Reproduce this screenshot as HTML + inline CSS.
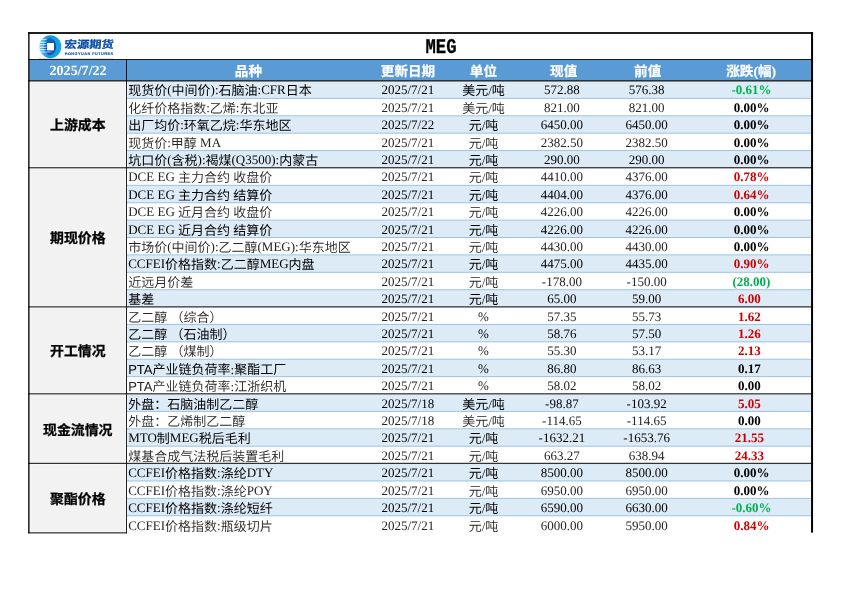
<!DOCTYPE html>
<html lang="zh-CN">
<head>
<meta charset="utf-8">
<title>MEG</title>
<style>
html,body{margin:0;padding:0;background:#fff;}
body{width:842px;height:595px;position:relative;overflow:hidden;font-family:"Liberation Serif","Noto Sans CJK SC",serif;color:#000;text-rendering:geometricPrecision;}
.a{position:absolute;}
.s{font-family:"Liberation Sans","Noto Sans CJK SC",sans-serif;}
.t{position:absolute;white-space:nowrap;font-size:13.00px;line-height:17px;height:17px;}
.c{text-align:center;width:120px;margin-left:-60px;}
.n{left:128.20px;}
.w{font-weight:350;color:#242424;-webkit-text-stroke:0;}
.m{font-size:13.00px;}
.l{position:relative;top:-1px;}
.chg{font-weight:bold;-webkit-text-stroke:0;}
.g{color:#00b050;}
.r{color:#cb0000;}
.p{padding-right:4.4px;box-sizing:border-box;}
.k{color:#000;}
.cat{-webkit-text-stroke:0.25px #000;position:absolute;left:29.10px;width:97.40px;display:flex;align-items:center;justify-content:center;font-weight:bold;font-size:13.90px;font-family:"Liberation Sans","Noto Sans CJK SC",sans-serif;}
.h{-webkit-text-stroke:0.2px #fff;position:absolute;color:#fff;font-weight:bold;font-size:13.60px;line-height:21.20px;height:21.20px;top:60.50px;text-align:center;width:160px;margin-left:-80px;white-space:nowrap;font-family:"Liberation Serif","Noto Sans CJK SC",serif;}
</style>
</head>
<body>

<svg class="a" style="left:0;top:0;" width="842" height="595" viewBox="0 0 842 595">
<rect x="29.10" y="59.50" width="782.95" height="20.80" fill="#5b9bd5"/>
<rect x="30.30" y="81.90" width="95.20" height="84.75" fill="#f2f2f2"/>
<rect x="30.30" y="168.85" width="95.20" height="136.92" fill="#f2f2f2"/>
<rect x="30.30" y="307.97" width="95.20" height="84.75" fill="#f2f2f2"/>
<rect x="30.30" y="394.92" width="95.20" height="67.36" fill="#f2f2f2"/>
<rect x="30.30" y="464.48" width="95.20" height="67.36" fill="#f2f2f2"/>
<rect x="127.40" y="81.30" width="683.65" height="17.19" fill="#ddebf7"/>
<rect x="127.40" y="116.08" width="683.65" height="17.19" fill="#ddebf7"/>
<rect x="127.40" y="150.86" width="683.65" height="17.19" fill="#ddebf7"/>
<rect x="127.40" y="185.64" width="683.65" height="17.19" fill="#ddebf7"/>
<rect x="127.40" y="220.42" width="683.65" height="17.19" fill="#ddebf7"/>
<rect x="127.40" y="255.20" width="683.65" height="17.19" fill="#ddebf7"/>
<rect x="127.40" y="289.98" width="683.65" height="17.19" fill="#ddebf7"/>
<rect x="127.40" y="324.76" width="683.65" height="17.19" fill="#ddebf7"/>
<rect x="127.40" y="359.54" width="683.65" height="17.19" fill="#ddebf7"/>
<rect x="127.40" y="394.32" width="683.65" height="17.19" fill="#ddebf7"/>
<rect x="127.40" y="429.10" width="683.65" height="17.19" fill="#ddebf7"/>
<rect x="127.40" y="463.88" width="683.65" height="17.19" fill="#ddebf7"/>
<rect x="127.40" y="498.66" width="683.65" height="17.19" fill="#ddebf7"/>
<rect x="127.00" y="97.89" width="684.55" height="1" fill="#9bc2e6"/>
<rect x="127.00" y="115.28" width="684.55" height="1" fill="#9bc2e6"/>
<rect x="127.00" y="132.67" width="684.55" height="1" fill="#9bc2e6"/>
<rect x="127.00" y="150.06" width="684.55" height="1" fill="#9bc2e6"/>
<rect x="127.00" y="184.84" width="684.55" height="1" fill="#9bc2e6"/>
<rect x="127.00" y="202.23" width="684.55" height="1" fill="#9bc2e6"/>
<rect x="127.00" y="219.62" width="684.55" height="1" fill="#9bc2e6"/>
<rect x="127.00" y="237.01" width="684.55" height="1" fill="#9bc2e6"/>
<rect x="127.00" y="254.40" width="684.55" height="1" fill="#9bc2e6"/>
<rect x="127.00" y="271.79" width="684.55" height="1" fill="#9bc2e6"/>
<rect x="127.00" y="289.18" width="684.55" height="1" fill="#9bc2e6"/>
<rect x="127.00" y="323.96" width="684.55" height="1" fill="#9bc2e6"/>
<rect x="127.00" y="341.35" width="684.55" height="1" fill="#9bc2e6"/>
<rect x="127.00" y="358.74" width="684.55" height="1" fill="#9bc2e6"/>
<rect x="127.00" y="376.13" width="684.55" height="1" fill="#9bc2e6"/>
<rect x="127.00" y="410.91" width="684.55" height="1" fill="#9bc2e6"/>
<rect x="127.00" y="428.30" width="684.55" height="1" fill="#9bc2e6"/>
<rect x="127.00" y="445.69" width="684.55" height="1" fill="#9bc2e6"/>
<rect x="127.00" y="480.47" width="684.55" height="1" fill="#9bc2e6"/>
<rect x="127.00" y="497.86" width="684.55" height="1" fill="#9bc2e6"/>
<rect x="127.00" y="515.25" width="684.55" height="1" fill="#9bc2e6"/>
<rect x="28.10" y="59.00" width="784.95" height="1" fill="#000" fill-opacity="0.87"/>
<rect x="28.10" y="80.05" width="784.95" height="1.5" fill="#000" fill-opacity="0.82"/>
<rect x="38.5" y="58" width="75.3" height="1" fill="#000" fill-opacity="0.12"/>
<rect x="28.10" y="167.12" width="784.95" height="1.25" fill="#000" fill-opacity="0.8"/>
<rect x="28.10" y="306.25" width="784.95" height="1.25" fill="#000" fill-opacity="0.8"/>
<rect x="28.10" y="393.19" width="784.95" height="1.25" fill="#000" fill-opacity="0.8"/>
<rect x="28.10" y="462.76" width="784.95" height="1.25" fill="#000" fill-opacity="0.8"/>
<rect x="28.10" y="532.22" width="98.90" height="1.25" fill="#000" fill-opacity="0.8"/>
<rect x="126.00" y="59.50" width="1" height="473.74" fill="#000" fill-opacity="0.88"/>
<rect x="28.10" y="32.00" width="784.95" height="2.0" fill="#000" fill-opacity="0.87"/>
<rect x="28.10" y="32.00" width="1.5" height="501.24" fill="#000" fill-opacity="0.9"/>
<rect x="811.05" y="32.00" width="2.0" height="500.64" fill="#000"/>
</svg>
<svg class="a" style="left:34px;top:33px;" width="86" height="27" viewBox="34 33 86 27">
<defs>
<linearGradient id="lg1" x1="0" y1="0" x2="1" y2="0"><stop offset="0" stop-color="#5bbdf0"/><stop offset="0.4" stop-color="#1496e0"/><stop offset="1" stop-color="#16a4e8"/></linearGradient>
<linearGradient id="lg2" x1="0.2" y1="0" x2="0.8" y2="1"><stop offset="0" stop-color="#0a74ca"/><stop offset="0.5" stop-color="#0558b2"/><stop offset="1" stop-color="#0a4aa8"/></linearGradient>
<linearGradient id="lg3" x1="0" y1="0" x2="1" y2="0"><stop offset="0" stop-color="#fff" stop-opacity="1"/><stop offset="0.75" stop-color="#fff" stop-opacity="0.85"/><stop offset="1" stop-color="#fff" stop-opacity="0.1"/></linearGradient>
<clipPath id="cp1"><ellipse cx="50.4" cy="46.65" rx="10.9" ry="11.5"/></clipPath>
</defs>
<ellipse cx="50.4" cy="46.65" rx="10.9" ry="11.5" fill="url(#lg1)"/>
<g clip-path="url(#cp1)">
<ellipse cx="50" cy="46.4" rx="6.1" ry="8.5" fill="url(#lg2)"/>
<rect x="38" y="39.2" width="9.6" height="0.9" fill="url(#lg3)"/>
<rect x="38" y="41.75" width="9.4" height="1" fill="url(#lg3)"/>
<rect x="38" y="44.2" width="9.4" height="1" fill="url(#lg3)"/>
<rect x="38" y="46.75" width="9.4" height="1" fill="url(#lg3)"/>
<rect x="38" y="49.2" width="9.4" height="1" fill="url(#lg3)"/>
<rect x="38" y="51.6" width="15" height="0.8" fill="url(#lg3)"/>
</g>
<rect x="47.1" y="43" width="6.9" height="7.4" fill="#fff"/>
<g fill="#0a4da6" font-family="'Liberation Sans','Noto Sans CJK SC',sans-serif" font-weight="bold">
<text transform="translate(64.3 47.6) scale(1.065 0.89) skewX(-3)" font-size="11.6" stroke="#0a4da6" stroke-width="0.3">宏源期货</text>
<text transform="translate(64.7 54.5) scale(0.4)" font-size="9.5" font-weight="bold" textLength="121" lengthAdjust="spacing" stroke="#0a4da6" stroke-width="0.3">HONGYUAN FUTURES</text>
</g>
</svg>

<div class="a" style="left:380.70px;width:120px;text-align:center;top:38.90px;font-family:'Liberation Mono',monospace;font-weight:bold;font-size:21.00px;line-height:20px;height:20px;-webkit-text-stroke:0.3px #000;transform:scale(0.82,1);">MEG</div>
<div class="h" style="left:78.10px;font-size:14.10px;top:60.50px;-webkit-text-stroke:0;">2025/7/22</div>
<div class="h" style="left:248.40px;">品种</div>
<div class="h" style="left:408.00px;">更新日期</div>
<div class="h" style="left:483.40px;">单位</div>
<div class="h" style="left:563.70px;">现值</div>
<div class="h" style="left:647.70px;">前值</div>
<div class="h" style="left:751.20px;">涨跌(幅)</div>
<div class="cat" style="top:115px;height:20px;line-height:20px;">上游成本</div>
<div class="cat" style="top:228px;height:20px;line-height:20px;">期现价格</div>
<div class="cat" style="top:341px;height:20px;line-height:20px;">开工情况</div>
<div class="cat" style="top:420px;height:20px;line-height:20px;">现金流情况</div>
<div class="cat" style="top:489px;height:20px;line-height:20px;">聚酯价格</div>
<div class="t n m" style="top:82.00px;">现货价<span class="l">(</span>中间价<span class="l">):</span>石脑油<span class="l">:CFR</span>日本</div>
<div class="t c" style="top:81.00px;left:407.80px;">2025/7/21</div>
<div class="t c m" style="top:82.00px;left:483.50px;">美元/吨</div>
<div class="t c" style="top:81.00px;left:561.90px;">572.88</div>
<div class="t c" style="top:81.00px;left:646.60px;">576.38</div>
<div class="t c chg g" style="top:81.00px;left:751.50px;">-0.61%</div>
<div class="t n m w" style="top:100.00px;">化纤价格指数<span class="l">:</span>乙烯<span class="l">:</span>东北亚</div>
<div class="t c w" style="top:99.00px;left:407.80px;">2025/7/21</div>
<div class="t c m w" style="top:100.00px;left:483.50px;">美元/吨</div>
<div class="t c w" style="top:99.00px;left:561.90px;">821.00</div>
<div class="t c w" style="top:99.00px;left:646.60px;">821.00</div>
<div class="t c chg k" style="top:99.00px;left:751.50px;">0.00%</div>
<div class="t n m" style="top:117.00px;">出厂均价<span class="l">:</span>环氧乙烷<span class="l">:</span>华东地区</div>
<div class="t c" style="top:116.00px;left:407.80px;">2025/7/22</div>
<div class="t c m" style="top:117.00px;left:483.50px;">元/吨</div>
<div class="t c" style="top:116.00px;left:561.90px;">6450.00</div>
<div class="t c" style="top:116.00px;left:646.60px;">6450.00</div>
<div class="t c chg k" style="top:116.00px;left:751.50px;">0.00%</div>
<div class="t n m w" style="top:135.00px;">现货价<span class="l">:</span>甲醇 <span class="l">MA</span></div>
<div class="t c w" style="top:134.00px;left:407.80px;">2025/7/21</div>
<div class="t c m w" style="top:135.00px;left:483.50px;">元/吨</div>
<div class="t c w" style="top:134.00px;left:561.90px;">2382.50</div>
<div class="t c w" style="top:134.00px;left:646.60px;">2382.50</div>
<div class="t c chg k" style="top:134.00px;left:751.50px;">0.00%</div>
<div class="t n m" style="top:152.00px;">坑口价<span class="l">(</span>含税<span class="l">):</span>褐煤<span class="l">(Q3500):</span>内蒙古</div>
<div class="t c" style="top:151.00px;left:407.80px;">2025/7/21</div>
<div class="t c m" style="top:152.00px;left:483.50px;">元/吨</div>
<div class="t c" style="top:151.00px;left:561.90px;">290.00</div>
<div class="t c" style="top:151.00px;left:646.60px;">290.00</div>
<div class="t c chg k" style="top:151.00px;left:751.50px;">0.00%</div>
<div class="t n m w" style="top:169.00px;"><span class="l">DCE EG </span>主力合约 收盘价</div>
<div class="t c w" style="top:168.00px;left:407.80px;">2025/7/21</div>
<div class="t c m w" style="top:169.00px;left:483.50px;">元/吨</div>
<div class="t c w" style="top:168.00px;left:561.90px;">4410.00</div>
<div class="t c w" style="top:168.00px;left:646.60px;">4376.00</div>
<div class="t c chg r" style="top:168.00px;left:751.50px;">0.78%</div>
<div class="t n m" style="top:187.00px;"><span class="l">DCE EG </span>主力合约 结算价</div>
<div class="t c" style="top:186.00px;left:407.80px;">2025/7/21</div>
<div class="t c m" style="top:187.00px;left:483.50px;">元/吨</div>
<div class="t c" style="top:186.00px;left:561.90px;">4404.00</div>
<div class="t c" style="top:186.00px;left:646.60px;">4376.00</div>
<div class="t c chg r" style="top:186.00px;left:751.50px;">0.64%</div>
<div class="t n m w" style="top:204.00px;"><span class="l">DCE EG </span>近月合约 收盘价</div>
<div class="t c w" style="top:203.00px;left:407.80px;">2025/7/21</div>
<div class="t c m w" style="top:204.00px;left:483.50px;">元/吨</div>
<div class="t c w" style="top:203.00px;left:561.90px;">4226.00</div>
<div class="t c w" style="top:203.00px;left:646.60px;">4226.00</div>
<div class="t c chg k" style="top:203.00px;left:751.50px;">0.00%</div>
<div class="t n m" style="top:222.00px;"><span class="l">DCE EG </span>近月合约 结算价</div>
<div class="t c" style="top:221.00px;left:407.80px;">2025/7/21</div>
<div class="t c m" style="top:222.00px;left:483.50px;">元/吨</div>
<div class="t c" style="top:221.00px;left:561.90px;">4226.00</div>
<div class="t c" style="top:221.00px;left:646.60px;">4226.00</div>
<div class="t c chg k" style="top:221.00px;left:751.50px;">0.00%</div>
<div class="t n m w" style="top:239.00px;">市场价<span class="l">(</span>中间价<span class="l">):</span>乙二醇<span class="l">(MEG):</span>华东地区</div>
<div class="t c w" style="top:238.00px;left:407.80px;">2025/7/21</div>
<div class="t c m w" style="top:239.00px;left:483.50px;">元/吨</div>
<div class="t c w" style="top:238.00px;left:561.90px;">4430.00</div>
<div class="t c w" style="top:238.00px;left:646.60px;">4430.00</div>
<div class="t c chg k" style="top:238.00px;left:751.50px;">0.00%</div>
<div class="t n m" style="top:256.00px;"><span class="l">CCFEI</span>价格指数<span class="l">:</span>乙二醇<span class="l">MEG</span>内盘</div>
<div class="t c" style="top:255.00px;left:407.80px;">2025/7/21</div>
<div class="t c m" style="top:256.00px;left:483.50px;">元/吨</div>
<div class="t c" style="top:255.00px;left:561.90px;">4475.00</div>
<div class="t c" style="top:255.00px;left:646.60px;">4435.00</div>
<div class="t c chg r" style="top:255.00px;left:751.50px;">0.90%</div>
<div class="t n m w" style="top:274.00px;">近远月价差</div>
<div class="t c w" style="top:273.00px;left:407.80px;">2025/7/21</div>
<div class="t c m w" style="top:274.00px;left:483.50px;">元/吨</div>
<div class="t c w" style="top:273.00px;left:561.90px;">-178.00</div>
<div class="t c w" style="top:273.00px;left:646.60px;">-150.00</div>
<div class="t c chg g" style="top:273.00px;left:751.50px;">(28.00)</div>
<div class="t n m" style="top:291.00px;">基差</div>
<div class="t c" style="top:290.00px;left:407.80px;">2025/7/21</div>
<div class="t c m" style="top:291.00px;left:483.50px;">元/吨</div>
<div class="t c" style="top:290.00px;left:561.90px;">65.00</div>
<div class="t c" style="top:290.00px;left:646.60px;">59.00</div>
<div class="t c chg r p" style="top:290.00px;left:751.50px;">6.00</div>
<div class="t n m w" style="top:309.00px;">乙二醇 （综合）</div>
<div class="t c w" style="top:308.00px;left:407.80px;">2025/7/21</div>
<div class="t c m w" style="top:308.00px;left:483.50px;">%</div>
<div class="t c w" style="top:308.00px;left:561.90px;">57.35</div>
<div class="t c w" style="top:308.00px;left:646.60px;">55.73</div>
<div class="t c chg r p" style="top:308.00px;left:751.50px;">1.62</div>
<div class="t n m" style="top:326.00px;">乙二醇 （石油制）</div>
<div class="t c" style="top:325.00px;left:407.80px;">2025/7/21</div>
<div class="t c m" style="top:325.00px;left:483.50px;">%</div>
<div class="t c" style="top:325.00px;left:561.90px;">58.76</div>
<div class="t c" style="top:325.00px;left:646.60px;">57.50</div>
<div class="t c chg r p" style="top:325.00px;left:751.50px;">1.26</div>
<div class="t n m w" style="top:343.00px;">乙二醇 （煤制）</div>
<div class="t c w" style="top:342.00px;left:407.80px;">2025/7/21</div>
<div class="t c m w" style="top:342.00px;left:483.50px;">%</div>
<div class="t c w" style="top:342.00px;left:561.90px;">55.30</div>
<div class="t c w" style="top:342.00px;left:646.60px;">53.17</div>
<div class="t c chg r p" style="top:342.00px;left:751.50px;">2.13</div>
<div class="t n m" style="top:361.00px;"><span class="s">PTA</span>产业链负荷率:聚酯工厂</div>
<div class="t c" style="top:360.00px;left:407.80px;">2025/7/21</div>
<div class="t c m" style="top:360.00px;left:483.50px;">%</div>
<div class="t c" style="top:360.00px;left:561.90px;">86.80</div>
<div class="t c" style="top:360.00px;left:646.60px;">86.63</div>
<div class="t c chg k p" style="top:360.00px;left:751.50px;">0.17</div>
<div class="t n m w" style="top:378.00px;"><span class="s">PTA</span>产业链负荷率:江浙织机</div>
<div class="t c w" style="top:377.00px;left:407.80px;">2025/7/21</div>
<div class="t c m w" style="top:377.00px;left:483.50px;">%</div>
<div class="t c w" style="top:377.00px;left:561.90px;">58.02</div>
<div class="t c w" style="top:377.00px;left:646.60px;">58.02</div>
<div class="t c chg k p" style="top:377.00px;left:751.50px;">0.00</div>
<div class="t n m" style="top:396.00px;">外盘：石脑油制乙二醇</div>
<div class="t c" style="top:395.00px;left:407.80px;">2025/7/18</div>
<div class="t c m" style="top:396.00px;left:483.50px;">美元/吨</div>
<div class="t c" style="top:395.00px;left:561.90px;">-98.87</div>
<div class="t c" style="top:395.00px;left:646.60px;">-103.92</div>
<div class="t c chg r p" style="top:395.00px;left:751.50px;">5.05</div>
<div class="t n m w" style="top:413.00px;">外盘：乙烯制乙二醇</div>
<div class="t c w" style="top:412.00px;left:407.80px;">2025/7/18</div>
<div class="t c m w" style="top:413.00px;left:483.50px;">美元/吨</div>
<div class="t c w" style="top:412.00px;left:561.90px;">-114.65</div>
<div class="t c w" style="top:412.00px;left:646.60px;">-114.65</div>
<div class="t c chg k p" style="top:412.00px;left:751.50px;">0.00</div>
<div class="t n m" style="top:430.00px;"><span class="l">MTO</span>制<span class="l">MEG</span>税后毛利</div>
<div class="t c" style="top:429.00px;left:407.80px;">2025/7/21</div>
<div class="t c m" style="top:430.00px;left:483.50px;">元/吨</div>
<div class="t c" style="top:429.00px;left:561.90px;">-1632.21</div>
<div class="t c" style="top:429.00px;left:646.60px;">-1653.76</div>
<div class="t c chg r p" style="top:429.00px;left:751.50px;">21.55</div>
<div class="t n m w" style="top:448.00px;">煤基合成气法税后装置毛利</div>
<div class="t c w" style="top:447.00px;left:407.80px;">2025/7/21</div>
<div class="t c m w" style="top:448.00px;left:483.50px;">元/吨</div>
<div class="t c w" style="top:447.00px;left:561.90px;">663.27</div>
<div class="t c w" style="top:447.00px;left:646.60px;">638.94</div>
<div class="t c chg r p" style="top:447.00px;left:751.50px;">24.33</div>
<div class="t n m" style="top:465.00px;"><span class="l">CCFEI</span>价格指数<span class="l">:</span>涤纶<span class="l">DTY</span></div>
<div class="t c" style="top:464.00px;left:407.80px;">2025/7/21</div>
<div class="t c m" style="top:465.00px;left:483.50px;">元/吨</div>
<div class="t c" style="top:464.00px;left:561.90px;">8500.00</div>
<div class="t c" style="top:464.00px;left:646.60px;">8500.00</div>
<div class="t c chg k" style="top:464.00px;left:751.50px;">0.00%</div>
<div class="t n m w" style="top:483.00px;"><span class="l">CCFEI</span>价格指数<span class="l">:</span>涤纶<span class="l">POY</span></div>
<div class="t c w" style="top:482.00px;left:407.80px;">2025/7/21</div>
<div class="t c m w" style="top:483.00px;left:483.50px;">元/吨</div>
<div class="t c w" style="top:482.00px;left:561.90px;">6950.00</div>
<div class="t c w" style="top:482.00px;left:646.60px;">6950.00</div>
<div class="t c chg k" style="top:482.00px;left:751.50px;">0.00%</div>
<div class="t n m" style="top:500.00px;"><span class="l">CCFEI</span>价格指数<span class="l">:</span>涤纶短纤</div>
<div class="t c" style="top:499.00px;left:407.80px;">2025/7/21</div>
<div class="t c m" style="top:500.00px;left:483.50px;">元/吨</div>
<div class="t c" style="top:499.00px;left:561.90px;">6590.00</div>
<div class="t c" style="top:499.00px;left:646.60px;">6630.00</div>
<div class="t c chg g" style="top:499.00px;left:751.50px;">-0.60%</div>
<div class="t n m w" style="top:518.00px;"><span class="l">CCFEI</span>价格指数<span class="l">:</span>瓶级切片</div>
<div class="t c w" style="top:517.00px;left:407.80px;">2025/7/21</div>
<div class="t c m w" style="top:518.00px;left:483.50px;">元/吨</div>
<div class="t c w" style="top:517.00px;left:561.90px;">6000.00</div>
<div class="t c w" style="top:517.00px;left:646.60px;">5950.00</div>
<div class="t c chg r" style="top:517.00px;left:751.50px;">0.84%</div>
</body>
</html>
